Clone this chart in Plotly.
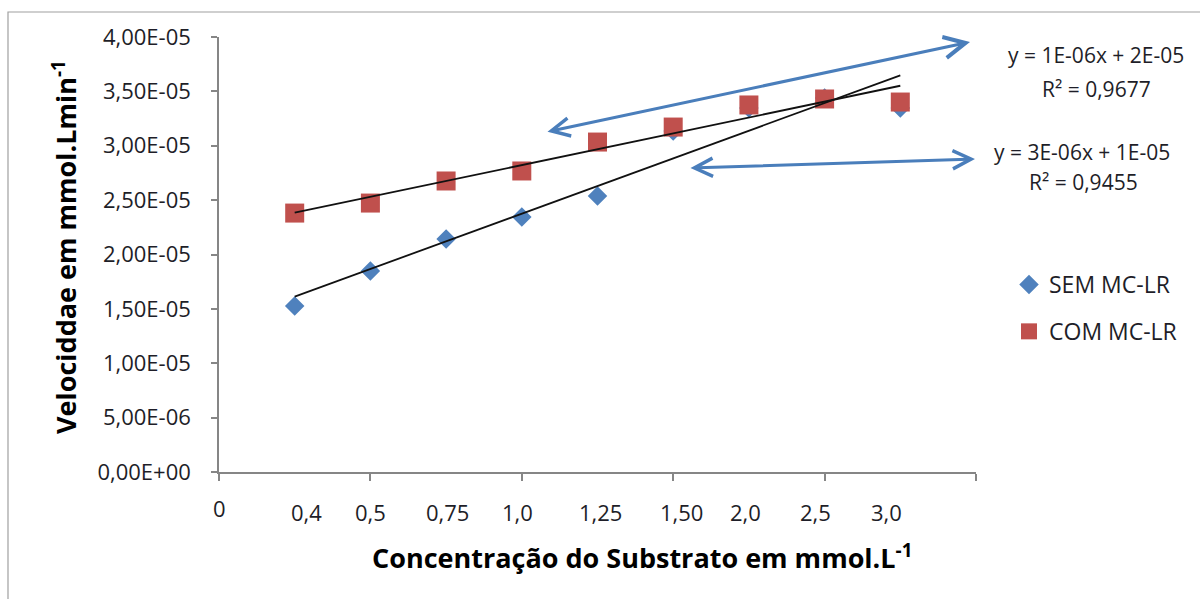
import numpy as np
import plotly.graph_objects as go

# ---- data -------------------------------------------------------------
x_pos = [1, 2, 3, 4, 5, 6, 7, 8, 9]
conc_labels = ["0,4", "0,5", "0,75", "1,0", "1,25", "1,50", "2,0", "2,5", "3,0"]
label_shift = [12, 0, 1, -4, 3, 8, -3, -9, -14]

sem_mclr = [1.526e-5, 1.848e-5, 2.142e-5, 2.345e-5, 2.538e-5,
            3.136e-5, 3.347e-5, 3.439e-5, 3.347e-5]
com_mclr = [2.381e-5, 2.473e-5, 2.676e-5, 2.768e-5, 3.034e-5,
            3.172e-5, 3.375e-5, 3.430e-5, 3.402e-5]

y_ticks = [0, 5e-6, 1e-5, 1.5e-5, 2e-5, 2.5e-5, 3e-5, 3.5e-5, 4e-5]
y_tick_text = ["0,00E+00", "5,00E-06", "1,00E-05", "1,50E-05", "2,00E-05",
               "2,50E-05", "3,00E-05", "3,50E-05", "4,00E-05"]

eq_com = ["y = 1E-06x + 2E-05", "R² = 0,9677"]
eq_sem = ["y = 3E-06x + 1E-05", "R² = 0,9455"]

# ---- layout geometry ----------------------------------------------------
W, H = 1200, 599
L, R, T, B = 219, 224, 37, 127
PW, PH = W - L - R, H - T - B
FONT = "Open Sans"
TXT = "#1e1e28"
BLUE = "#4F81BD"
RED = "#C0504D"
ARROW = "#4A7EBB"


def px_x(px):
    return (px - L) / PW


def px_y(py):
    return (H - B - py) / PH


fig = go.Figure()

fig.add_trace(go.Scatter(
    x=x_pos, y=sem_mclr, mode="markers", name="SEM MC-LR",
    legendgroup="sem",
    marker=dict(symbol="diamond", size=15, color=BLUE),
))
fig.add_trace(go.Scatter(
    x=x_pos, y=com_mclr, mode="markers", name="COM MC-LR",
    legendgroup="com",
    marker=dict(symbol="square", size=19, color=RED),
))

# linear trend lines
for series in (sem_mclr, com_mclr):
    m, b = np.polyfit(x_pos, series, 1)
    xs = [x_pos[0], x_pos[-1]]
    fig.add_trace(go.Scatter(
        x=xs, y=[m * v + b for v in xs], mode="lines",
        line=dict(color="#111111", width=1.8), showlegend=False,
        hoverinfo="skip",
    ))

annotations = []

# category labels under the x axis
annotations.append(dict(
    x=0, y=0, xref="x", yref="paper", text="0", showarrow=False,
    xanchor="center", yanchor="middle",
    yshift=-36, font=dict(family=FONT, size=22, color=TXT),
))
for xv, lab, sh in zip(x_pos, conc_labels, label_shift):
    annotations.append(dict(
        x=xv, y=0, xref="x", yref="paper", text=lab, showarrow=False,
        xanchor="center", yanchor="middle",
        xshift=sh, yshift=-40, font=dict(family=FONT, size=22, color=TXT),
    ))

# axis titles
annotations.append(dict(
    x=px_x(642), y=px_y(556), xref="paper", yref="paper",
    xanchor="center", yanchor="middle",
    text="<b>Concentração do Substrato em mmol.L<sup>-1</sup></b>",
    showarrow=False, font=dict(family=FONT, size=27, color="#000000"),
))
annotations.append(dict(
    x=px_x(65), y=px_y(247), xref="paper", yref="paper", textangle=-90,
    xanchor="center", yanchor="middle",
    text="<b>Velociddae em mmol.Lmin<sup>-1</sup></b>",
    showarrow=False, font=dict(family=FONT, size=27, color="#000000"),
))

# trend line equations
for (cx, cy), txt in zip([(1096, 55), (1096, 89)], eq_com):
    annotations.append(dict(
        x=px_x(cx), y=px_y(cy), xref="paper", yref="paper", text=txt,
        xanchor="center", yanchor="middle",
        showarrow=False, font=dict(family=FONT, size=21, color=TXT),
    ))
for (cx, cy), txt in zip([(1082, 152), (1083, 182)], eq_sem):
    annotations.append(dict(
        x=px_x(cx), y=px_y(cy), xref="paper", yref="paper", text=txt,
        xanchor="center", yanchor="middle",
        showarrow=False, font=dict(family=FONT, size=21, color=TXT),
    ))

# double-headed pointer arrows (head position, tail offset in pixels)
for (x0, y0), (x1, y1), hs in [((970, 42), (546, 132), 1.4),
                               ((975, 159), (689, 168), 1.2)]:
    annotations.append(dict(
        x=px_x(x0), y=px_y(y0), ax=x1 - x0, ay=y1 - y0,
        xref="paper", yref="paper", axref="pixel", ayref="pixel",
        text="", showarrow=True, arrowside="end+start", arrowhead=5,
        startarrowhead=5, arrowsize=hs, startarrowsize=1.2,
        arrowwidth=3, arrowcolor=ARROW,
    ))

fig.update_layout(
    width=W, height=H,
    margin=dict(l=L, r=R, t=T, b=B, autoexpand=False),
    paper_bgcolor="white", plot_bgcolor="white",
    font=dict(family=FONT, color=TXT),
    annotations=annotations,
    showlegend=True,
    legend=dict(
        x=px_x(1009), y=px_y(263), xanchor="left", yanchor="top",
        font=dict(family=FONT, size=23, color=TXT),
        traceorder="grouped", tracegroupgap=14,
        bgcolor="rgba(0,0,0,0)", itemwidth=30,
    ),
    shapes=[dict(
        type="rect", xref="paper", yref="paper",
        x0=px_x(8), y0=px_y(12), x1=px_x(1215), y1=px_y(615),
        line=dict(color="#A0A0A0", width=1.2), layer="below",
    )],
)

fig.update_xaxes(
    range=[0, 10], tickvals=[0, 2, 4, 6, 8, 10], showticklabels=False,
    ticks="outside", ticklen=7, tickcolor="#868686", tickwidth=1.5,
    showline=True, linecolor="#868686", linewidth=1.5,
    showgrid=False, zeroline=False,
)
fig.update_yaxes(
    range=[0, 4e-5], tickvals=y_ticks, ticktext=y_tick_text,
    ticks="outside", ticklen=6, tickcolor="#868686", tickwidth=1.5,
    tickfont=dict(family=FONT, size=22, color=TXT), ticklabelstandoff=16,
    showline=True, linecolor="#868686", linewidth=1.5,
    showgrid=False, zeroline=False,
)

fig.write_html("out.html")
